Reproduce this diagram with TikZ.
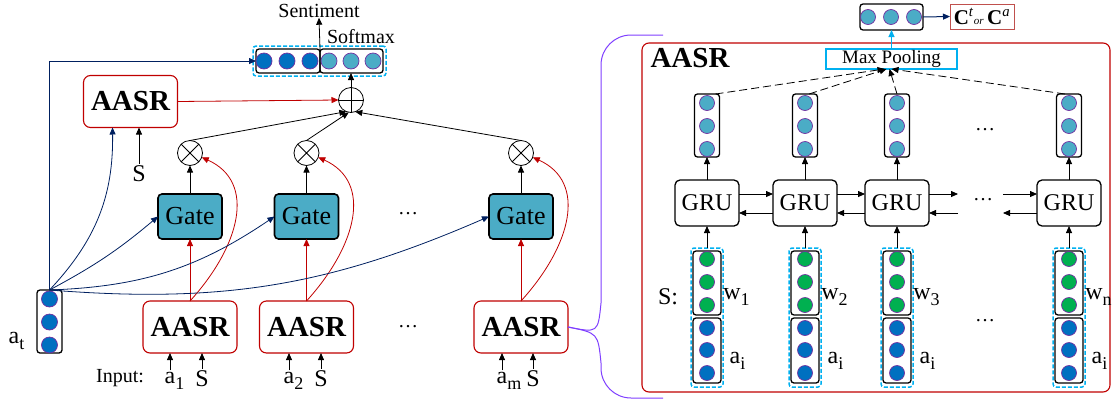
\documentclass[tikz,border=0pt]{standalone}
\usepackage{fontspec}
\setmainfont{Liberation Serif}
\usetikzlibrary{arrows.meta,calc}
\definecolor{myred}{RGB}{192,0,0}
\definecolor{navy}{RGB}{0,32,96}
\definecolor{cteal}{RGB}{75,172,198}
\definecolor{cblue}{RGB}{0,112,192}
\definecolor{cgreen}{RGB}{0,176,80}
\definecolor{cpurple}{RGB}{112,48,160}
\definecolor{ccyan}{RGB}{0,176,240}
\definecolor{brk}{RGB}{127,63,255}
\definecolor{cbrown}{RGB}{192,80,77}
\newcommand{\lowsub}[1]{\raisebox{-6pt}{\fontsize{18}{18}\selectfont #1}}
\begin{document}
\begin{tikzpicture}[x=1pt,y=-1pt,
  every node/.style={inner sep=0pt, outer sep=0pt},
  lbl/.style={font=\fontsize{20}{22}\selectfont},
  biglbl/.style={font=\fontsize{24}{26}\selectfont},
  aasrbox/.style={draw=myred, line width=1.1pt, rounded corners=7pt, minimum width=94pt, minimum height=52pt, font=\fontsize{29}{31}\selectfont\bfseries, fill=white},
  gatebox/.style={draw=black, line width=1.6pt, fill=cteal, rounded corners=4pt, minimum width=64pt, minimum height=45pt, font=\fontsize{26}{28}\selectfont},
  grubox/.style={draw=black, line width=1.3pt, rounded corners=5pt, minimum width=64pt, minimum height=46pt, font=\fontsize{24}{26}\selectfont},
  ballb/.style={circle, draw=cpurple, line width=0.7pt, fill=cblue, minimum size=16pt},
  ballt/.style={circle, draw=cpurple, line width=0.7pt, fill=cteal, minimum size=16pt},
  ballg/.style={circle, draw=cpurple, line width=0.7pt, fill=cgreen, minimum size=15pt},
  ballbs/.style={circle, draw=cpurple, line width=0.7pt, fill=cblue, minimum size=15pt},
  ballts/.style={circle, draw=cpurple, line width=0.7pt, fill=cteal, minimum size=15pt},
  vecbox/.style={draw=black, line width=1.3pt, rounded corners=3pt},
  cyanbox/.style={draw=ccyan, line width=1.5pt, dash pattern=on 4pt off 2pt, rounded corners=3pt},
  arr/.style={-{Triangle[length=7pt,width=6pt]}, line width=0.8pt},
  navyarr/.style={arr, draw=navy},
  redarr/.style={arr, draw=myred},
  otimesnode/.style={circle, draw, line width=0.8pt, minimum size=25pt, fill=white,
    path picture={\draw[line width=0.8pt] (path picture bounding box.north west) -- (path picture bounding box.south east)
      (path picture bounding box.north east) -- (path picture bounding box.south west);}},
  oplusnode/.style={circle, draw, line width=0.8pt, minimum size=25pt, fill=white,
    path picture={\draw[line width=0.8pt] (path picture bounding box.north) -- (path picture bounding box.south)
      (path picture bounding box.east) -- (path picture bounding box.west);}}
]
\useasboundingbox (0,0) rectangle (1116,405);

% ---------------- left part ----------------
\node[cyanbox, minimum width=133pt, minimum height=30pt] (vecAll) at (319.5,61) {};
\node[vecbox, minimum width=64pt, minimum height=24pt] (vecL) at (288,61) {};
\node[vecbox, minimum width=63pt, minimum height=24pt] (vecR) at (351.5,61) {};
\foreach \x [count=\i] in {264,287,310} \node[ballb] (vl\i) at (\x,61) {};
\foreach \x [count=\i] in {329,351,373} \node[ballt] (vr\i) at (\x,61) {};
\node[lbl] (sent) at (319,11) {Sentiment};
\node[lbl] (softmax) at (361,37) {Softmax};
\draw[arr] (vecR.north west) -- (sent.south);

\node[oplusnode] (oplus) at (351,100) {};
\draw[arr] (oplus.north) -- (oplus.north |- vecR.south);

\node[aasrbox] (aasrTop) at (130.5,101.5) {AASR};
\draw[redarr] (aasrTop.east) -- (oplus.west);
\node[biglbl] (sTop) at (139,174) {S};
\draw[arr] ([yshift=2pt]sTop.north) -- (sTop.north |- aasrTop.south);

\node[vecbox, minimum width=25pt, minimum height=63pt] (at) at (49.5,321.5) {};
\foreach \y [count=\i] in {299,322,345} \node[ballb] (atc\i) at (49.5,\y) {};
\node[biglbl] (atlbl) at (14,341) {a\rlap{\lowsub{t}}};

\foreach \i/\x/\ia/\is/\sub in {1/190/170/202/1, 2/306.5/289/321/2, 3/521/502/533/m} {
  \node[otimesnode] (ot\i) at (\x,153) {};
  \node[gatebox] (gate\i) at (\x,216.5) {Gate};
  \node[aasrbox] (b\i) at (\x,327) {AASR};
  \node[biglbl] (ia\i) at (\ia,381) {a\rlap{\lowsub{\sub}}};
  \node[biglbl] (is\i) at (\is,379) {S};
  \draw[arr] ([yshift=2pt]ia\i.north) -- (ia\i.north |- b\i.south);
  \draw[arr] ([yshift=2pt]is\i.north) -- (is\i.north |- b\i.south);
  \draw[redarr] (b\i.north) -- (gate\i.south);
  \draw[redarr] (b\i.north) .. controls +(50,-55) and +(55,25) .. (ot\i.-20);
  \draw[arr] (gate\i.north) -- (ot\i.south);
}
\node[lbl] (inputlbl) at (120,378) {Input:};
\node[lbl] (dots1) at (408,214) {…};
\node[lbl] (dots2) at (408,327) {…};

\draw[arr] (ot1.north) -- (oplus.-112);
\draw[arr] (ot2.north) -- (oplus.-100);
\draw[arr] (ot3.north) -- (oplus.-70);

\draw[navyarr] (at.north) |- (vecL.west);
\draw[navyarr] (at.north) to[bend right=22] ([xshift=-18pt]aasrTop.south);
\draw[navyarr] (at.north) to[bend right=6] (gate1.west);
\draw[navyarr] (at.north) to[bend right=16] (gate2.west);
\draw[navyarr] (at.north) to[bend right=14] (gate3.west);

\draw[brk, line width=1pt] (b3.east) .. controls (598,333) .. (601,303) {[rounded corners=30pt] -- (601,35) -- (663,35)};
\draw[brk, line width=1pt] (b3.east) .. controls (598,333) .. (601,363) {[rounded corners=30pt] -- (601,398) -- (663,398)};

% ---------------- right part ----------------
\node[draw=myred, line width=1.1pt, rounded corners=7pt, minimum width=468pt, minimum height=349pt] (big) at (876,217.5) {};
\node[font=\fontsize{29}{31}\selectfont\bfseries] (biglabel) at (690,58) {AASR};

\node[draw=ccyan, line width=1.3pt, fill=white, minimum width=131pt, minimum height=20pt, font=\fontsize{19}{21}\selectfont] (mp) at (891.5,59) {Max Pooling};
\node[vecbox, minimum width=63pt, minimum height=26pt] (tv) at (891.5,17) {};
\foreach \x [count=\i] in {868,891,914} \node[ballts] (tvc\i) at (\x,17) {};
\node[draw=cbrown, line width=1pt, minimum width=64pt, minimum height=25pt, font=\fontsize{21}{23}\selectfont] (cbox) at (982,16.5)
  {\textbf{C}\textsuperscript{\textit{t}}{\fontsize{11}{11}\selectfont\textit{or}}\,\textbf{C}\textsuperscript{\textit{a}}};
\draw[-{Triangle[length=7pt,width=6pt]}, line width=1pt, ccyan] (mp.north) -- (tv.south);
\draw[navyarr, line width=1pt] (tv.east) -- (cbox.west);

\node[biglbl] (slbl) at (668,297) {S:};

\foreach \i/\c/\w in {1/707/1, 2/805/2, 3/897/3, 4/1069/n} {
  \node[vecbox, minimum width=25pt, minimum height=63pt] (vt\i) at (\c,125.5) {};
  \foreach \y [count=\k] in {103,126,149} \node[ballts] (vt\i c\k) at (\c,\y) {};
  \node[grubox] (gru\i) at (\c,203) {GRU};
  \node[cyanbox, minimum width=32pt, minimum height=139pt] (vin\i) at (\c,317.5) {};
  \node[vecbox, minimum width=28pt, minimum height=64pt] (vw\i) at (\c,283) {};
  \node[vecbox, minimum width=28pt, minimum height=65pt] (va\i) at (\c,350.5) {};
  \foreach \y [count=\k] in {259,282,305} \node[ballg] (vw\i c\k) at (\c,\y) {};
  \foreach \y [count=\k] in {328,350,373} \node[ballbs] (va\i c\k) at (\c,\y) {};
  \node[biglbl] (wl\i) at ($(\c,297)+(25,0)$) {w\rlap{\lowsub{\w}}};
  \node[biglbl] (al\i) at ($(\c,361)+(28,0)$) {a\rlap{\lowsub{i}}};
  \draw[arr] (vin\i.north) -- (gru\i.south);
  \draw[arr] (gru\i.north) -- (vt\i.south);
}
\draw[arr, dash pattern=on 8pt off 4pt] ([xshift=-4pt]vt1.north east) -- ([xshift=-7pt]mp.south);
\draw[arr, dash pattern=on 8pt off 4pt] ([xshift=4pt]vt2.north) -- ([xshift=-5pt]mp.south);
\draw[arr, dash pattern=on 8pt off 4pt] (vt3.north) -- ([xshift=-2pt]mp.south);
\draw[arr, dash pattern=on 8pt off 4pt] ([xshift=-4pt]vt4.north) -- ([xshift=0pt]mp.south);

\foreach \a/\b in {1/2, 2/3} {
  \draw[arr] ([yshift=9pt]gru\a.east) -- ([yshift=9pt]gru\b.west);
  \draw[arr] ([yshift=-10pt]gru\b.west) -- ([yshift=-10pt]gru\a.east);
}
\coordinate (g3r) at (958,194);
\coordinate (g3rb) at (958,213);
\coordinate (g4l) at (1003,194);
\coordinate (g4lb) at (1003,213);
\draw[arr] ([yshift=9pt]gru3.east) -- (g3r);
\draw[arr] (g3rb) -- ([yshift=-10pt]gru3.east);
\draw[arr] (g4l) -- ([yshift=9pt]gru4.west);
\draw[arr] ([yshift=-10pt]gru4.west) -- (g4lb);

\node[lbl] (rd1) at (985,130) {…};
\node[lbl] (rd2) at (983,200) {…};
\node[lbl] (rd3) at (985,321) {…};
\end{tikzpicture}
\end{document}
